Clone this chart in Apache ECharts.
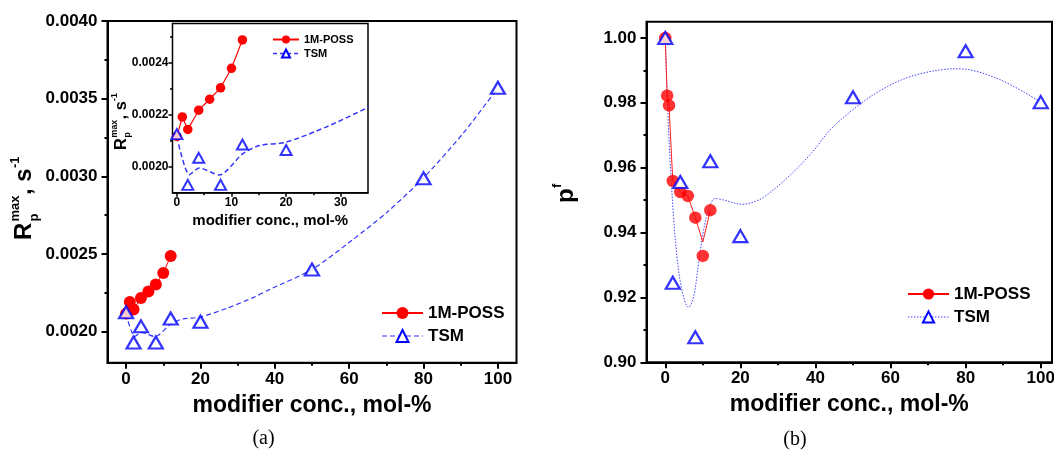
<!DOCTYPE html>
<html><head><meta charset="utf-8">
<script src="https://cdn.jsdelivr.net/npm/echarts@6/dist/echarts.min.js"></script>
<style>html,body{margin:0;padding:0;background:#fff}#c{width:1054px;height:450px}</style>
</head><body><div id="c"></div>
<script>
// ---------- data ----------
const possConcA = [0, 1, 2, 4, 6, 8, 10, 12];
const possRate = [0.002116, 0.002191, 0.002143, 0.002217, 0.002259, 0.002303, 0.002378, 0.002487];
const tsmConc = [0, 2, 4, 8, 12, 20, 50, 80, 100];
const tsmRate = [0.002125, 0.00193, 0.002034, 0.00193, 0.002085, 0.002064, 0.0024, 0.002988, 0.00357];
const tsmRateFitConc = [0, 2.3, 4.1, 7.8, 12, 15.1, 20, 27.3, 34.9, 38.2, 50, 60.9, 69.9, 80, 90.8, 100];
const tsmRateFit = [0.002115, 0.001969, 0.001995, 0.001968, 0.002049, 0.002081, 0.002094, 0.002152, 0.002227, 0.002267, 0.0024, 0.002591, 0.002763, 0.00299, 0.003281, 0.00357];

const possConcB = [0, 0.5, 1, 2, 4, 6, 8, 10, 12];
const possPf = [1.0, 0.9822, 0.9792, 0.9559, 0.9525, 0.9513, 0.9446, 0.9328, 0.9469];
const possPfCurve = [1.0, 0.9822, 0.9792, 0.9559, 0.9525, 0.9513, 0.9446, 0.9371, 0.9469];
const tsmPf = [1.0, 0.9245, 0.9556, 0.9077, 0.962, 0.9389, 0.9817, 0.9959, 0.9802];
const tsmPfFitConc = [0, 0.72, 1.33, 2.21, 3.12, 4.45, 6.2, 7.54, 8.87, 10.2, 11.53, 13.3, 15.98, 20.4, 23.97, 26.6, 33.1, 39.3, 43.8, 49.6, 57.3, 66.2, 77.8, 88.6, 100];
const tsmPfFit = [1.0, 0.9766, 0.9612, 0.9448, 0.9325, 0.9222, 0.9169, 0.9202, 0.9305, 0.9407, 0.9469, 0.9505, 0.9499, 0.9487, 0.9496, 0.9512, 0.9575, 0.9650, 0.9715, 0.9775, 0.9838, 0.9884, 0.9905, 0.9874, 0.9802];

// tick labels
const concTicks = [0, 20, 40, 60, 80, 100];
const concMinor = [10, 30, 50, 70, 90];
const rateTicks = [0.0020, 0.0025, 0.0030, 0.0035, 0.0040];
const rateMinor = [0.00225, 0.00275, 0.00325, 0.00375];
const insetConcTicks = [0, 10, 20, 30];
const insetConcMinor = [5, 15, 25];
const insetRateTicks = [0.0020, 0.0022, 0.0024];
const insetRateMinor = [0.0021, 0.0023, 0.0025];
const pfTicks = [0.90, 0.92, 0.94, 0.96, 0.98, 1.00];
const pfMinor = [0.91, 0.93, 0.95, 0.97, 0.99];

const xName = 'modifier conc., mol-%';
const FONT = '"Liberation Sans", Arial, sans-serif';

// ---------- helpers ----------
const zip = (xs, ys) => xs.map((x, i) => [x, ys[i]]);

function majorAxis(o) {
  return {
    type: 'value', gridIndex: o.grid, min: o.min, max: o.max, position: o.pos,
    axisLine: { show: true, onZero: false, lineStyle: { color: '#000', width: o.lw } },
    axisTick: { show: true, inside: false, length: o.tl, customValues: o.ticks, lineStyle: { color: '#000', width: o.lw } },
    axisLabel: { show: true, customValues: o.ticks, margin: o.margin, fontSize: o.fs, fontWeight: 'bold', fontFamily: FONT, color: '#000',
      formatter: o.fmt },
    splitLine: { show: false },
    name: o.name || '', nameLocation: 'middle', nameGap: o.nameGap || 0,
    nameTextStyle: { fontSize: o.nfs || 12, fontWeight: 'bold', fontFamily: FONT, color: '#000' }
  };
}
function minorAxis(o) {
  return {
    type: 'value', gridIndex: o.grid, min: o.min, max: o.max, position: o.pos, offset: 0,
    axisLine: { show: false, onZero: false },
    axisTick: { show: true, inside: false, length: o.tl, customValues: o.ticks, lineStyle: { color: '#000', width: o.lw } },
    axisLabel: { show: false },
    splitLine: { show: false }
  };
}

const xAxis = [
  majorAxis({ grid: 0, pos: 'bottom', min: -5, max: 105, lw: 2, tl: 6, ticks: concTicks, margin: 8, fs: 17, fmt: v => String(v), name: xName, nameGap: 31, nfs: 23 }),
  minorAxis({ grid: 0, pos: 'bottom', min: -5, max: 105, lw: 2, tl: 3, ticks: concMinor }),
  majorAxis({ grid: 1, pos: 'bottom', min: -0.8, max: 35, lw: 1.5, tl: 4, ticks: insetConcTicks, margin: 4, fs: 12, fmt: v => String(v), name: xName, nameGap: 21, nfs: 15 }),
  minorAxis({ grid: 1, pos: 'bottom', min: -0.8, max: 35, lw: 1.5, tl: 2.5, ticks: insetConcMinor }),
  majorAxis({ grid: 2, pos: 'bottom', min: -5, max: 103, lw: 2, tl: 6, ticks: concTicks, margin: 8, fs: 17, fmt: v => String(v), name: xName, nameGap: 31, nfs: 23 }),
  minorAxis({ grid: 2, pos: 'bottom', min: -5, max: 103, lw: 2, tl: 3, ticks: concMinor })
];
const yAxis = [
  majorAxis({ grid: 0, pos: 'left', min: 0.0018, max: 0.0040, lw: 2, tl: 6, ticks: rateTicks, margin: 10, fs: 17, fmt: v => v.toFixed(4) }),
  minorAxis({ grid: 0, pos: 'left', min: 0.0018, max: 0.0040, lw: 2, tl: 3, ticks: rateMinor }),
  majorAxis({ grid: 1, pos: 'left', min: 0.0019, max: 0.00255, lw: 1.5, tl: 4, ticks: insetRateTicks, margin: 4, fs: 12, fmt: v => v.toFixed(4) }),
  minorAxis({ grid: 1, pos: 'left', min: 0.0019, max: 0.00255, lw: 1.5, tl: 2.5, ticks: insetRateMinor }),
  majorAxis({ grid: 2, pos: 'left', min: 0.90, max: 1.005, lw: 2, tl: 6, ticks: pfTicks, margin: 10, fs: 17, fmt: v => v.toFixed(2) }),
  minorAxis({ grid: 2, pos: 'left', min: 0.90, max: 1.005, lw: 2, tl: 3, ticks: pfMinor })
];

const RED = '#ff0000', BLUE = '#0000ff';
const triStyle = bw => ({ color: '#ffffff', borderColor: BLUE, borderWidth: bw });

const series = [
  { name: 'TSM', type: 'line', xAxisIndex: 0, yAxisIndex: 0, data: zip(tsmRateFitConc, tsmRateFit),
    smooth: 0.25, showSymbol: false, symbol: 'triangle', symbolSize: [14, 12], itemStyle: triStyle(2.2),
    lineStyle: { color: '#3535ff', width: 1.2, type: [5, 3] }, z: 2, silent: true },
  { name: '1M-POSS', type: 'line', xAxisIndex: 0, yAxisIndex: 0, data: zip(possConcA, possRate),
    symbol: 'circle', symbolSize: 12, showSymbol: true, itemStyle: { color: RED },
    lineStyle: { color: RED, width: 1 }, z: 3, silent: true },
  { name: 'TSM', type: 'scatter', xAxisIndex: 0, yAxisIndex: 0, data: zip(tsmConc, tsmRate),
    symbol: 'triangle', symbolSize: [14, 12], itemStyle: triStyle(2.2), z: 4, silent: true },

  { name: 'TSM', type: 'line', xAxisIndex: 2, yAxisIndex: 2, data: zip(tsmRateFitConc, tsmRateFit),
    smooth: 0.25, showSymbol: false, lineStyle: { color: '#3535ff', width: 1.5, type: [5, 3] }, z: 2, silent: true, clip: true },
  { name: '1M-POSS', type: 'line', xAxisIndex: 2, yAxisIndex: 2, data: zip(possConcA, possRate),
    symbol: 'circle', symbolSize: 9.5, itemStyle: { color: RED }, lineStyle: { color: RED, width: 1.2 }, z: 3, silent: true },
  { name: 'TSM', type: 'scatter', xAxisIndex: 2, yAxisIndex: 2, data: zip(tsmConc, tsmRate),
    symbol: 'triangle', symbolSize: [11, 10], itemStyle: triStyle(2), z: 4, silent: true, clip: true },

  { name: 'TSM', type: 'line', xAxisIndex: 4, yAxisIndex: 4, data: zip(tsmPfFitConc, tsmPfFit),
    smooth: 0.35, showSymbol: false, lineStyle: { color: '#4545ff', width: 1, type: [1.5, 1.5] }, z: 2, silent: true },
  { name: '1M-POSS', type: 'line', xAxisIndex: 4, yAxisIndex: 4, data: zip(possConcB, possPfCurve),
    showSymbol: false, lineStyle: { color: '#ff2020', width: 1 }, z: 3, silent: true },
  { name: '1M-POSS', type: 'scatter', xAxisIndex: 4, yAxisIndex: 4, data: zip(possConcB, possPf),
    symbol: 'circle', symbolSize: 12.5, itemStyle: { color: RED }, z: 4, silent: true },
  { name: 'TSM', type: 'scatter', xAxisIndex: 4, yAxisIndex: 4, data: zip(tsmConc, tsmPf),
    symbol: 'triangle', symbolSize: [14, 12], itemStyle: triStyle(2.2), z: 5, silent: true }
];

function legend(left, top, w, h, fs, gap, tsmLine) {
  return {
    show: true, orient: 'vertical', left: left, top: top, padding: 0,
    itemWidth: w, itemHeight: h, itemGap: gap, selectedMode: false,
    textStyle: { fontSize: fs, fontWeight: 'bold', fontFamily: FONT, color: '#000' },
    data: [{ name: '1M-POSS' }, { name: 'TSM', lineStyle: tsmLine }]
  };
}

function yLabel(x, y, s, kind) {
  const big = 'bold ' + 24 + 'px ' + FONT, small = 'bold ' + 13 + 'px ' + FONT;
  const t = (text, tx, ty, font) => ({ type: 'text', x: tx, y: ty,
    style: { text: text, font: font, fill: '#000', textAlign: 'left', textVerticalAlign: 'middle', align: 'left', verticalAlign: 'middle' } });
  const children = kind === 'R' ? [
    t('R', 0, 0, big), t('max', 18.5, -9, small), t('p', 18.5, 10, small),
    t(', s', 45, 0, big), t('-1', 72, -9, small)
  ] : [ t('p', 0, -2, big), t('f', 15, -11, small) ];
  return { type: 'group', x: x, y: y, rotation: Math.PI / 2, scaleX: s, scaleY: s, silent: true, children: children };
}

const option = {
  animation: false,
  backgroundColor: '#ffffff',
  grid: [
    { left: 107.5, top: 21, width: 409, height: 341.7, show: true, borderColor: '#000', borderWidth: 2, backgroundColor: 'transparent', containLabel: false, outerBoundsMode: 'none' },
    { left: 172.5, top: 23.5, width: 195.5, height: 169.2, show: true, borderColor: '#000', borderWidth: 1.5, backgroundColor: '#ffffff', containLabel: false, outerBoundsMode: 'none', z: 1 },
    { left: 646.5, top: 21.7, width: 405.5, height: 340.6, show: true, borderColor: '#000', borderWidth: 2, backgroundColor: 'transparent', containLabel: false, outerBoundsMode: 'none' }
  ],
  xAxis: xAxis,
  yAxis: yAxis,
  legend: [
    legend(272, 34, 26, 10, 11, 3, { type: [4, 3], color: '#3535ff', width: 1.3, opacity: 1 }),
    legend(381, 304.5, 41, 15, 17, 6, { type: [5, 3], color: '#3535ff', width: 1.2, opacity: 1 }),
    legend(907, 285.5, 41, 14, 17, 6, { type: [1.5, 1.5], color: '#4545ff', width: 1, opacity: 1 })
  ],
  series: series,
  graphic: [
    yLabel(24, 240, 1, 'R'),
    yLabel(121, 150, 0.68, 'R'),
    yLabel(568, 203, 1, 'p'),
    { type: 'text', x: 263.5, y: 439, silent: true,
      style: { text: '(a)', font: '20px "Liberation Serif", serif', fill: '#000', textAlign: 'center', textVerticalAlign: 'middle', align: 'center', verticalAlign: 'middle' } },
    { type: 'text', x: 795, y: 440, silent: true,
      style: { text: '(b)', font: '20px "Liberation Serif", serif', fill: '#000', textAlign: 'center', textVerticalAlign: 'middle', align: 'center', verticalAlign: 'middle' } }
  ]
};

const chart = echarts.init(document.getElementById('c'), null, { renderer: 'canvas' });
chart.setOption(option);
</script>
</body></html>
